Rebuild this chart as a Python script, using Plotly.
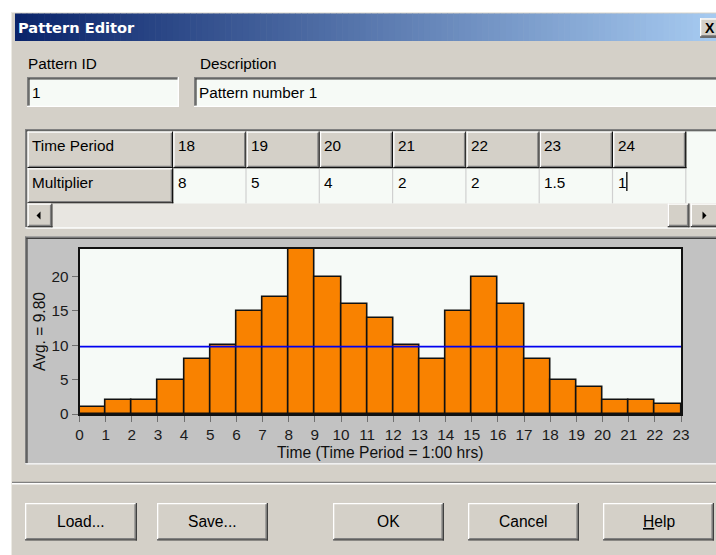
import plotly.graph_objects as go

# ---------------- data ----------------
periods = list(range(1, 25))
multipliers = [1, 2, 2, 5, 8, 10, 15, 17, 24, 20, 16, 14, 10, 8,
               15, 20, 16, 8, 5, 4, 2, 2, 1.5, 1]
plotted_count = 23            # period 24 is still being typed, chart shows 23
table_first_period = 18       # grid scrolled to show periods 18..24
table_columns = 7
x_ticks = list(range(0, 24))
y_ticks = [0, 5, 10, 15, 20]
pattern_id = "1"
description = "Pattern number 1"
period_length = "1:00 hrs"
button_labels = ["Load...", "Save...", "OK", "Cancel", "Help"]

# ---------------- helpers ----------------
W, H = 716, 555
SANS = "Liberation Sans, Arial, sans-serif"
TITLEFONT = "DejaVu Sans, Verdana, sans-serif"
FACE = "#D4D0C8"
FIELD = "#F6FAF6"


def fx(x):
    return x / W


def fy(y):
    return 1 - y / H


shapes = []
annotations = []


def rect(x0, y0, x1, y1, fill):
    shapes.append(dict(type="rect", xref="paper", yref="paper",
                       x0=fx(x0), x1=fx(x1), y0=fy(y1), y1=fy(y0),
                       fillcolor=fill, line=dict(width=0), layer="below"))


def path(pts, fill):
    d = "M " + " L ".join(f"{fx(a)},{fy(b)}" for a, b in pts) + " Z"
    shapes.append(dict(type="path", xref="paper", yref="paper", path=d,
                       fillcolor=fill, line=dict(width=0), layer="below"))


T = 1.3


def raised(x0, y0, x1, y1, fill=FACE, dark="#404040"):
    rect(x0, y0, x1, y1, fill)
    rect(x0, y0, x1, y0 + T, "#FFFFFF")
    rect(x0, y0, x0 + T, y1, "#FFFFFF")
    rect(x0 + T, y1 - 2 * T, x1 - T, y1 - T, "#808080")
    rect(x1 - 2 * T, y0 + T, x1 - T, y1 - T, "#808080")
    rect(x0, y1 - T, x1, y1, dark)
    rect(x1 - T, y0, x1, y1, dark)


def sunken(x0, y0, x1, y1, fill=FIELD):
    rect(x0, y0, x1, y1, fill)
    rect(x0, y0, x1, y0 + T, "#808080")
    rect(x0, y0, x0 + T, y1, "#808080")
    rect(x0 + T, y0 + T, x1 - T, y0 + 2 * T, "#404040")
    rect(x0 + T, y0 + T, x0 + 2 * T, y1 - T, "#404040")
    rect(x0, y1 - T, x1, y1, "#FFFFFF")
    rect(x1 - T, y0, x1, y1, "#FFFFFF")


def text(x, y, s, size=15.3, anchor="left", color="#000000", family=SANS,
         angle=0):
    annotations.append(dict(x=fx(x), y=fy(y), xref="paper", yref="paper",
                            text=s, showarrow=False, xanchor=anchor,
                            yanchor="middle", textangle=angle,
                            borderpad=0,
                            font=dict(size=size, color=color, family=family)))


# ---------------- dialog frame ----------------
rect(11, 12, W, H, "#ECEAE4")
rect(12, 13, W, H, FACE)

# title bar gradient
c0 = (10, 36, 106)
c1 = (166, 202, 240)
tx0, tx1 = 15, W
n = 120
for i in range(n):
    t = i / (n - 1)
    col = "rgb(%d,%d,%d)" % tuple(round(a + (b - a) * t) for a, b in zip(c0, c1))
    xa = tx0 + (tx1 - tx0) * i / n
    xb = tx0 + (tx1 - tx0) * (i + 1) / n + 0.6
    rect(xa, 13.5, xb, 41, col)
text(17, 27.5, "<b>Pattern Editor</b>", size=14.6, color="#FFFFFF",
     family=TITLEFONT)
raised(700, 18.3, 722, 37.7)
text(709.5, 28, "<b>X</b>", size=14, anchor="center", family=SANS)

# ---------------- id / description ----------------
text(27, 63.5, "Pattern ID")
text(199, 63.5, "Description")
sunken(27, 77, 179, 107)
sunken(194, 77, 722, 107)
text(30.5, 92.5, pattern_id)
text(197.5, 92.5, description)

# ---------------- grid ----------------
sunken(25, 129, 722, 228.5, fill=FIELD)
col_x0, col_w = 173.3, 73.3
row1 = (131.5, 168.3)
row2 = (168.3, 203.5)
# data row background
rect(172, row2[0], W, row2[1], FIELD)
rect(col_x0 + table_columns * col_w, row1[0], W, row1[1], FIELD)
# fixed column cells
raised(27.5, row1[0], col_x0, row1[1], dark="#101010")
raised(27.5, row2[0], col_x0, row2[1], dark="#101010")
text(31, 145, "Time Period")
text(31, 183, "Multiplier")
start = table_first_period - 1
for k in range(table_columns):
    xa = col_x0 + k * col_w
    xb = xa + col_w
    raised(xa, row1[0], xb, row1[1], dark="#101010")
    # grid line on data row
    rect(xb - 1.2, row2[0], xb, row2[1], "#D0D0D0")
    p = periods[start + k]
    v = multipliers[start + k]
    text(xa + 3.5, 145, str(p))
    text(xa + 3.5, 183, f"{v:g}")
# caret after last typed value
rect(626.2, 172, 627.5, 191, "#000000")

# scrollbar
rect(27.5, 203.5, 720, 227.3, "#E8E6E1")
raised(27.5, 203.5, 52.5, 227.3)
path([(36.5, 215.4), (40.5, 211.4), (40.5, 219.4)], "#000000")
raised(667.7, 203.5, 689.5, 227.3)
raised(690.7, 203.5, 722, 227.3)
path([(706.5, 215.4), (702.5, 211.4), (702.5, 219.4)], "#000000")

# ---------------- chart panel ----------------
sunken(25, 236.5, 722, 464.5, fill="#C2C2C2")
PX0, PX1, PY0, PY1 = 79.5, 681, 249, 414
rect(PX0, PY0, PX1, PY1, "#F6FAF7")

# ---------------- separator & buttons ----------------
rect(12, 481.8, W, 483.1, "#808080")
rect(12, 483.1, W, 484.4, "#FFFFFF")
button_x = [(25, 137), (157, 268), (333, 444), (468, 579), (603, 714)]
for (xa, xb), lab in zip(button_x, button_labels):
    raised(xa, 503, xb, 540.5)
    if lab == "Help":
        lab = '<span style="text-decoration:underline">H</span>elp'
    text((xa + xb) / 2, 521.5, lab, size=15.6, anchor="center")

# ---------------- chart ----------------
chart_vals = multipliers[:plotted_count]
chart_starts = [p - 1 for p in periods[:plotted_count]]
avg = sum(chart_vals) / len(chart_vals)

fig = go.Figure()
fig.add_trace(go.Bar(x=chart_starts, y=chart_vals, width=1, offset=0,
                     marker=dict(color="#F98200",
                                 line=dict(color="#111111", width=1.6)),
                     hoverinfo="x+y"))
fig.add_trace(go.Scatter(x=[0, plotted_count], y=[avg, avg], mode="lines",
                         line=dict(color="#0000F0", width=1.6),
                         hoverinfo="y"))

text((PX0 + PX1) / 2, 452.5, f"Time (Time Period = {period_length})",
     size=15.6, anchor="center", color="#101010")
text(39, 332, f"Avg. = {avg:.2f}", size=15.6, anchor="center",
     color="#101010", angle=-90)

tickfont = dict(family=SANS, size=15.3, color="#1A1A1A")
fig.update_layout(
    width=W, height=H,
    margin=dict(l=0, r=0, t=0, b=0),
    paper_bgcolor="#FFFFFF",
    plot_bgcolor="#F6FAF7",
    showlegend=False,
    bargap=0,
    xaxis=dict(domain=[fx(PX0), fx(PX1)], range=[0, plotted_count],
               tickvals=x_ticks, ticks="outside", ticklen=6,
               tickcolor="#707070", tickwidth=1.2, showgrid=False,
               zeroline=False, showline=True, linecolor="#111111",
               linewidth=1.6, mirror=True, tickfont=tickfont,
               fixedrange=True, automargin=False),
    yaxis=dict(domain=[fy(PY1), fy(PY0)], range=[0, 24],
               tickvals=y_ticks, ticks="outside", ticklen=6,
               tickcolor="#707070", tickwidth=1.2, showgrid=False,
               zeroline=False, showline=True, linecolor="#111111",
               linewidth=1.6, mirror=True, tickfont=tickfont,
               fixedrange=True, automargin=False),
    shapes=shapes,
    annotations=annotations,
)

fig.write_html("out.html", config={"displayModeBar": False},
               post_script="document.body.style.margin='0px';"
                           "document.body.style.overflow='hidden';")
